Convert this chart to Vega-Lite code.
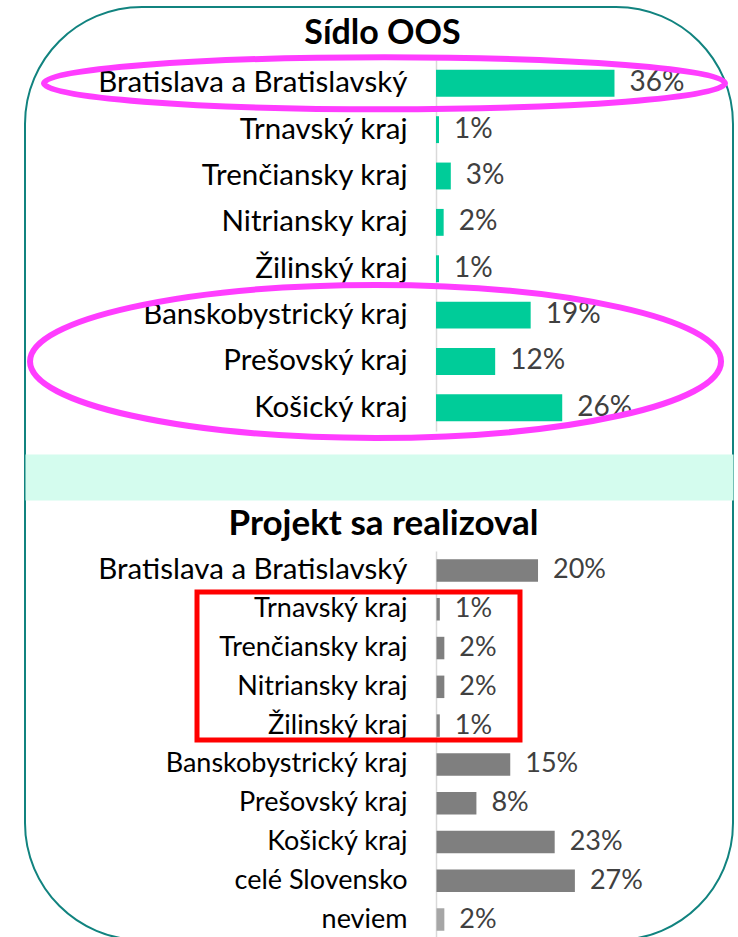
{
  "$schema": "https://vega.github.io/schema/vega-lite/v6.json",
  "width": 708,
  "height": 933,
  "autosize": "none",
  "padding": {"left": 25, "top": 7, "right": 5, "bottom": -3},
  "background": "white",
  "view": {"stroke": "#11837f", "strokeWidth": 2, "cornerRadius": 117},
  "config": {"font": "Lato"},
  "layer": [
    {
      "data": {"values": [
        {"region": "Bratislava a Bratislavský", "value": 0.362},
        {"region": "Trnavský kraj", "value": 0.006},
        {"region": "Trenčiansky kraj", "value": 0.030},
        {"region": "Nitriansky kraj", "value": 0.0155},
        {"region": "Žilinský kraj", "value": 0.006},
        {"region": "Banskobystrický kraj", "value": 0.192},
        {"region": "Prešovský kraj", "value": 0.120},
        {"region": "Košický kraj", "value": 0.256}
      ]},
      "encoding": {
        "y": {
          "field": "region", "type": "nominal", "sort": null,
          "scale": {"domain": ["Bratislava a Bratislavský", "Trnavský kraj", "Trenčiansky kraj", "Nitriansky kraj", "Žilinský kraj", "Banskobystrický kraj", "Prešovský kraj", "Košický kraj"], "range": [53.1, 424], "paddingInner": 0.42, "paddingOuter": 0.21},
          "axis": {"orient": "left", "offset": -411, "title": "Sídlo OOS", "titleX": -54, "titleY": 26, "titleAngle": 0, "titleAlign": "center", "titleBaseline": "middle", "titleFont": "Lato", "titleFontSize": 34, "titleFontWeight": "bold", "titleColor": "#000000", "labelFont": "Lato", "labelFontSize": 29.5, "labelColor": "#000000", "labelPadding": 29, "labelLimit": 500, "ticks": false, "grid": false, "domainColor": "#d9d9d9", "domainWidth": 1.5}
        },
        "x": {
          "field": "value", "type": "quantitative",
          "scale": {"domain": [-0.8337, 0.6024], "nice": false},
          "axis": {"orient": "bottom", "offset": -463, "domainColor": "#d4fcee", "domainWidth": 46, "labels": false, "ticks": false, "grid": false, "title": null}
        }
      },
      "layer": [
        {"mark": {"type": "bar", "color": "#00cc99"}},
        {"mark": {"type": "text", "align": "left", "baseline": "middle", "dx": 15, "font": "Lato", "fontSize": 28, "color": "#404040"},
         "encoding": {"text": {"field": "value", "type": "quantitative", "format": ".0%"}}},
        {"transform": [{"filter": "datum.region === 'Bratislava a Bratislavský'"}],
         "mark": {"type": "point", "shape": "M-1,0C-1,-0.0422,-0.5523,-0.0764,0,-0.0764C0.5523,-0.0764,1,-0.0422,1,0C1,0.0422,0.5523,0.0764,0,0.0764C-0.5523,0.0764,-1,0.0422,-1,0Z", "size": 463761, "filled": false, "stroke": "#ff3dff", "strokeWidth": 6, "opacity": 1},
         "encoding": {"x": {"datum": -0.1045, "type": "quantitative"}}},
        {"transform": [{"filter": "datum.region === 'Prešovský kraj'"}],
         "mark": {"type": "point", "shape": "M-1,0C-1,-0.1223,-0.5523,-0.2214,0,-0.2214C0.5523,-0.2214,1,-0.1223,1,0C1,0.1223,0.5523,0.2214,0,0.2214C-0.5523,0.2214,-1,0.1223,-1,0Z", "size": 477481, "filled": false, "stroke": "#ff3dff", "strokeWidth": 6, "opacity": 1},
         "encoding": {"x": {"datum": -0.1227, "type": "quantitative"}}}
      ]
    },
    {
      "data": {"values": [
        {"region": "Bratislava a Bratislavský", "value": 0.201},
        {"region": "Trnavský kraj", "value": 0.0065},
        {"region": "Trenčiansky kraj", "value": 0.0155},
        {"region": "Nitriansky kraj", "value": 0.0155},
        {"region": "Žilinský kraj", "value": 0.0065},
        {"region": "Banskobystrický kraj", "value": 0.146},
        {"region": "Prešovský kraj", "value": 0.079},
        {"region": "Košický kraj", "value": 0.234},
        {"region": "celé Slovensko", "value": 0.274},
        {"region": "neviem", "value": 0.0155}
      ]},
      "encoding": {
        "y": {
          "field": "region", "type": "nominal", "sort": null,
          "scale": {"domain": ["Bratislava a Bratislavský", "Trnavský kraj", "Trenčiansky kraj", "Nitriansky kraj", "Žilinský kraj", "Banskobystrický kraj", "Prešovský kraj", "Košický kraj", "celé Slovensko", "neviem"], "range": [544.1, 931.9], "paddingInner": 0.42, "paddingOuter": 0.21},
          "axis": {"orient": "left", "offset": -411, "title": "Projekt sa realizoval", "titleX": -53, "titleY": 516, "titleAngle": 0, "titleAlign": "center", "titleBaseline": "middle", "titleFont": "Lato", "titleFontSize": 35, "titleFontWeight": "bold", "titleColor": "#000000", "labelFont": "Lato", "labelFontSize": {"condition": {"test": "datum.value === 'Bratislava a Bratislavský'", "value": 29.5}, "value": 27}, "labelColor": "#000000", "labelPadding": 29, "labelLimit": 500, "ticks": false, "grid": false, "domainColor": "#d9d9d9", "domainWidth": 1.5}
        },
        "x": {
          "field": "value", "type": "quantitative",
          "scale": {"domain": [-0.8149, 0.5871], "nice": false},
          "axis": null
        }
      },
      "layer": [
        {"mark": {"type": "bar"},
         "encoding": {"color": {"condition": {"test": "datum.region === 'neviem'", "value": "#a6a6a6"}, "value": "#7f7f7f"}}},
        {"mark": {"type": "text", "align": "left", "baseline": "middle", "dx": 15, "font": "Lato", "fontSize": 27, "color": "#404040"},
         "encoding": {"text": {"field": "value", "type": "quantitative", "format": ".0%"}}},
        {"transform": [{"filter": "datum.region === 'Trnavský kraj'"}],
         "mark": {"type": "rect", "fill": "transparent", "stroke": "#ff0000", "strokeWidth": 5},
         "encoding": {
           "y": {"field": "region", "type": "nominal", "bandPosition": -0.27},
           "y2": {"datum": "Žilinský kraj", "bandPosition": 1.14},
           "x": {"datum": -0.4743, "type": "quantitative"},
           "x2": {"datum": 0.1653}
         }}
      ]
    }
  ],
  "resolve": {"scale": {"x": "independent", "y": "independent"}}
}
